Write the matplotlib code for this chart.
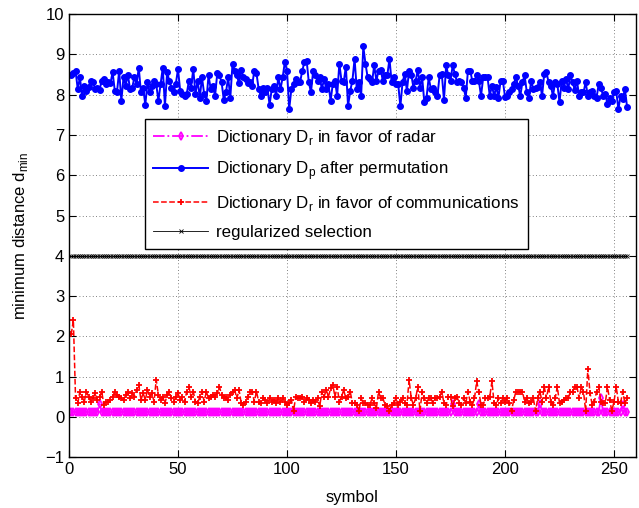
import numpy as np
import matplotlib
matplotlib.use("Agg")
import matplotlib.pyplot as plt

plt.rcParams['font.family'] = ['Liberation Sans', 'DejaVu Sans']
plt.rcParams['font.size'] = 12

# dictionary D_p after permutation (blue), symbols 1..256
perm_dmin = [
    # 1-64
    8.48, 8.53, 8.6, 8.14, 8.43, 7.97, 8.23, 8.1, 8.2, 8.35, 8.31, 8.14, 8.18, 8.12, 8.35, 8.39,
    8.27, 8.31, 8.28, 8.56, 8.1, 8.06, 8.6, 7.85, 8.43, 8.23, 8.5, 8.14, 8.18, 8.43, 8.27, 8.67,
    8.06, 8.18, 7.75, 8.31, 8.06, 8.23, 8.35, 8.27, 7.85, 8.27, 8.67, 7.72, 8.56, 8.35, 8.18, 8.06,
    8.27, 8.64, 8.1, 8.02, 7.97, 8.02, 8.35, 8.18, 8.64, 8.02, 8.35, 7.93, 8.43, 8.02, 7.85, 8.48,
    # 65-128
    8.14, 8.23, 7.97, 8.53, 8.48, 8.31, 7.87, 8.06, 8.43, 7.93, 8.77, 8.6, 8.48, 8.28, 8.62, 8.43,
    8.39, 8.28, 8.31, 8.23, 8.6, 8.53, 8.14, 7.97, 8.18, 8.06, 8.18, 7.75, 8.14, 8.23, 7.97, 8.43,
    8.14, 8.43, 8.81, 8.6, 7.64, 8.14, 8.27, 8.39, 8.31, 8.31, 8.6, 8.81, 8.85, 8.31, 8.06, 8.6,
    8.48, 8.35, 8.43, 8.14, 8.39, 8.14, 8.27, 7.85, 8.27, 8.35, 7.97, 8.77, 8.35, 8.31, 8.7, 7.72,
    # 129-192
    8.1, 8.35, 8.89, 8.14, 8.31, 7.97, 9.2, 8.77, 8.43, 8.39, 8.31, 8.73, 8.35, 8.6, 8.62, 8.33,
    8.48, 8.48, 8.89, 8.31, 8.43, 8.27, 8.27, 7.71, 8.31, 8.52, 8.1, 8.6, 8.5, 8.18, 8.35, 8.62,
    8.18, 8.43, 7.81, 7.93, 8.43, 8.14, 8.18, 8.06, 7.97, 8.48, 8.52, 7.87, 8.73, 8.48, 8.35, 8.73,
    8.52, 8.31, 8.35, 8.31, 8.18, 7.93, 8.6, 8.6, 8.35, 8.35, 8.48, 8.35, 7.97, 8.43, 8.43, 8.43,
    # 193-256
    7.97, 8.23, 7.97, 8.2, 7.93, 8.35, 8.35, 7.95, 7.97, 8.06, 8.14, 8.27, 8.43, 8.23, 7.97, 8.31,
    8.48, 8.06, 7.93, 8.35, 8.14, 8.18, 8.2, 8.31, 7.97, 8.52, 8.56, 8.31, 8.23, 7.97, 8.31, 8.27,
    7.81, 8.35, 8.18, 8.39, 8.14, 8.48, 8.31, 8.12, 8.35, 7.97, 8.06, 8.06, 8.31, 7.97, 8.06, 8.1,
    7.97, 7.93, 8.27, 8.18, 7.97, 8.02, 7.77, 7.93, 7.85, 8.06, 8.1, 7.64, 7.97, 7.89, 8.14, 7.7,
]

# dictionary D_r in favor of communications (red)
comm_dmin = [
    # 1-64
    2.05, 2.4, 0.46, 0.34, 0.63, 0.5, 0.38, 0.63, 0.5, 0.38, 0.46, 0.59, 0.42, 0.5, 0.63, 0.3,
    0.38, 0.38, 0.42, 0.5, 0.63, 0.55, 0.5, 0.46, 0.42, 0.55, 0.63, 0.46, 0.59, 0.5, 0.67, 0.8,
    0.42, 0.59, 0.42, 0.67, 0.5, 0.59, 0.38, 0.92, 0.55, 0.42, 0.5, 0.34, 0.55, 0.63, 0.46, 0.38,
    0.5, 0.59, 0.42, 0.5, 0.38, 0.63, 0.75, 0.5, 0.63, 0.38, 0.34, 0.5, 0.63, 0.38, 0.63, 0.46,
    # 65-128
    0.5, 0.55, 0.5, 0.59, 0.75, 0.55, 0.46, 0.5, 0.42, 0.55, 0.63, 0.67, 0.46, 0.67, 0.34, 0.3,
    0.38, 0.5, 0.63, 0.63, 0.38, 0.63, 0.38, 0.34, 0.46, 0.42, 0.34, 0.46, 0.38, 0.42, 0.34, 0.46,
    0.38, 0.46, 0.38, 0.3, 0.34, 0.42, 0.15, 0.5, 0.46, 0.46, 0.5, 0.38, 0.46, 0.42, 0.34, 0.42,
    0.38, 0.46, 0.26, 0.63, 0.5, 0.67, 0.5, 0.71, 0.8, 0.5, 0.75, 0.38, 0.5, 0.67, 0.46, 0.5,
    # 129-192
    0.63, 0.34, 0.34, 0.3, 0.15, 0.46, 0.34, 0.34, 0.3, 0.3, 0.46, 0.34, 0.22, 0.63, 0.46, 0.46,
    0.3, 0.26, 0.15, 0.3, 0.34, 0.46, 0.3, 0.38, 0.46, 0.34, 0.3, 0.92, 0.46, 0.3, 0.46, 0.75,
    0.15, 0.63, 0.46, 0.34, 0.46, 0.46, 0.34, 0.46, 0.46, 0.5, 0.63, 0.34, 0.3, 0.5, 0.5, 0.26,
    0.46, 0.5, 0.34, 0.3, 0.46, 0.34, 0.63, 0.38, 0.3, 0.46, 0.88, 0.63, 0.3, 0.3, 0.46, 0.46,
    # 193-256
    0.5, 0.88, 0.34, 0.3, 0.46, 0.34, 0.46, 0.38, 0.46, 0.34, 0.15, 0.42, 0.63, 0.63, 0.63, 0.63,
    0.38, 0.46, 0.34, 0.38, 0.46, 0.15, 0.46, 0.63, 0.38, 0.75, 0.46, 0.75, 0.38, 0.3, 0.46, 0.75,
    0.34, 0.38, 0.42, 0.46, 0.46, 0.63, 0.63, 0.75, 0.75, 0.46, 0.75, 0.63, 0.15, 1.2, 0.59, 0.3,
    0.38, 0.63, 0.75, 0.38, 0.34, 0.34, 0.75, 0.42, 0.15, 0.38, 0.75, 0.38, 0.34, 0.63, 0.34, 0.46,
]

# dictionary D_r in favor of radar (magenta): flat level with a few bumps
radar_level = 0.13
radar_bumps = {14: 0.32, 176: 0.32, 188: 0.32, 216: 0.32, 244: 0.47, 254: 0.3}

# regularized selection (black): flat level
reg_level = 4.0

n_symbols = 256
symbols = np.arange(1, n_symbols + 1)

radar_dmin = np.full(n_symbols, radar_level)
for k, v in radar_bumps.items():
    radar_dmin[k - 1] = v
reg_dmin = np.full(n_symbols, reg_level)

fig = plt.figure(figsize=(6.39, 5.08), dpi=100)
ax = fig.add_axes([0.108, 0.100, 0.887, 0.872])

ax.plot(symbols, radar_dmin, '-.d', color='#ff00ff', lw=1.3, ms=4.2, mfc='none', mew=1.3,
        label=r'Dictionary D$_\mathregular{r}$ in favor of radar')
ax.plot(np.arange(1, len(perm_dmin) + 1), perm_dmin, '-o', color='#0000ff', lw=1.4, ms=4,
        label=r'Dictionary D$_\mathregular{p}$ after permutation')
ax.plot(np.arange(1, len(comm_dmin) + 1), comm_dmin, '--+', color='#ff0000', lw=1.1, ms=5, mew=1.3,
        label=r'Dictionary D$_\mathregular{r}$ in favor of communications')
ax.plot(symbols, reg_dmin, '-x', color='k', lw=0.6, ms=3.5, mew=0.6,
        label='regularized selection')

ax.set_xlim(0, 260)
ax.set_ylim(-1, 10)
ax.set_xticks(np.arange(0, 251, 50))
ax.set_yticks(np.arange(-1, 11, 1))
ax.tick_params(direction='in', top=True, right=True, length=5, width=0.8)
for s in ax.spines.values():
    s.set_linewidth(1.0)
ax.grid(True, linestyle=(0, (1, 3)), color='0.35', lw=0.6)

ax.set_xlabel('symbol', labelpad=9)
ax.set_ylabel(r'minimum distance d$_\mathregular{min}$', labelpad=11)

leg = ax.legend(loc='upper left', bbox_to_anchor=(0.134, 0.763), fancybox=False, framealpha=1,
                edgecolor='k', handlelength=3.2, handletextpad=0.5, labelspacing=0.72,
                borderpad=0.5, borderaxespad=0, fontsize=12.2)
leg.get_frame().set_linewidth(1.0)

fig.savefig('out.png', dpi=100)
